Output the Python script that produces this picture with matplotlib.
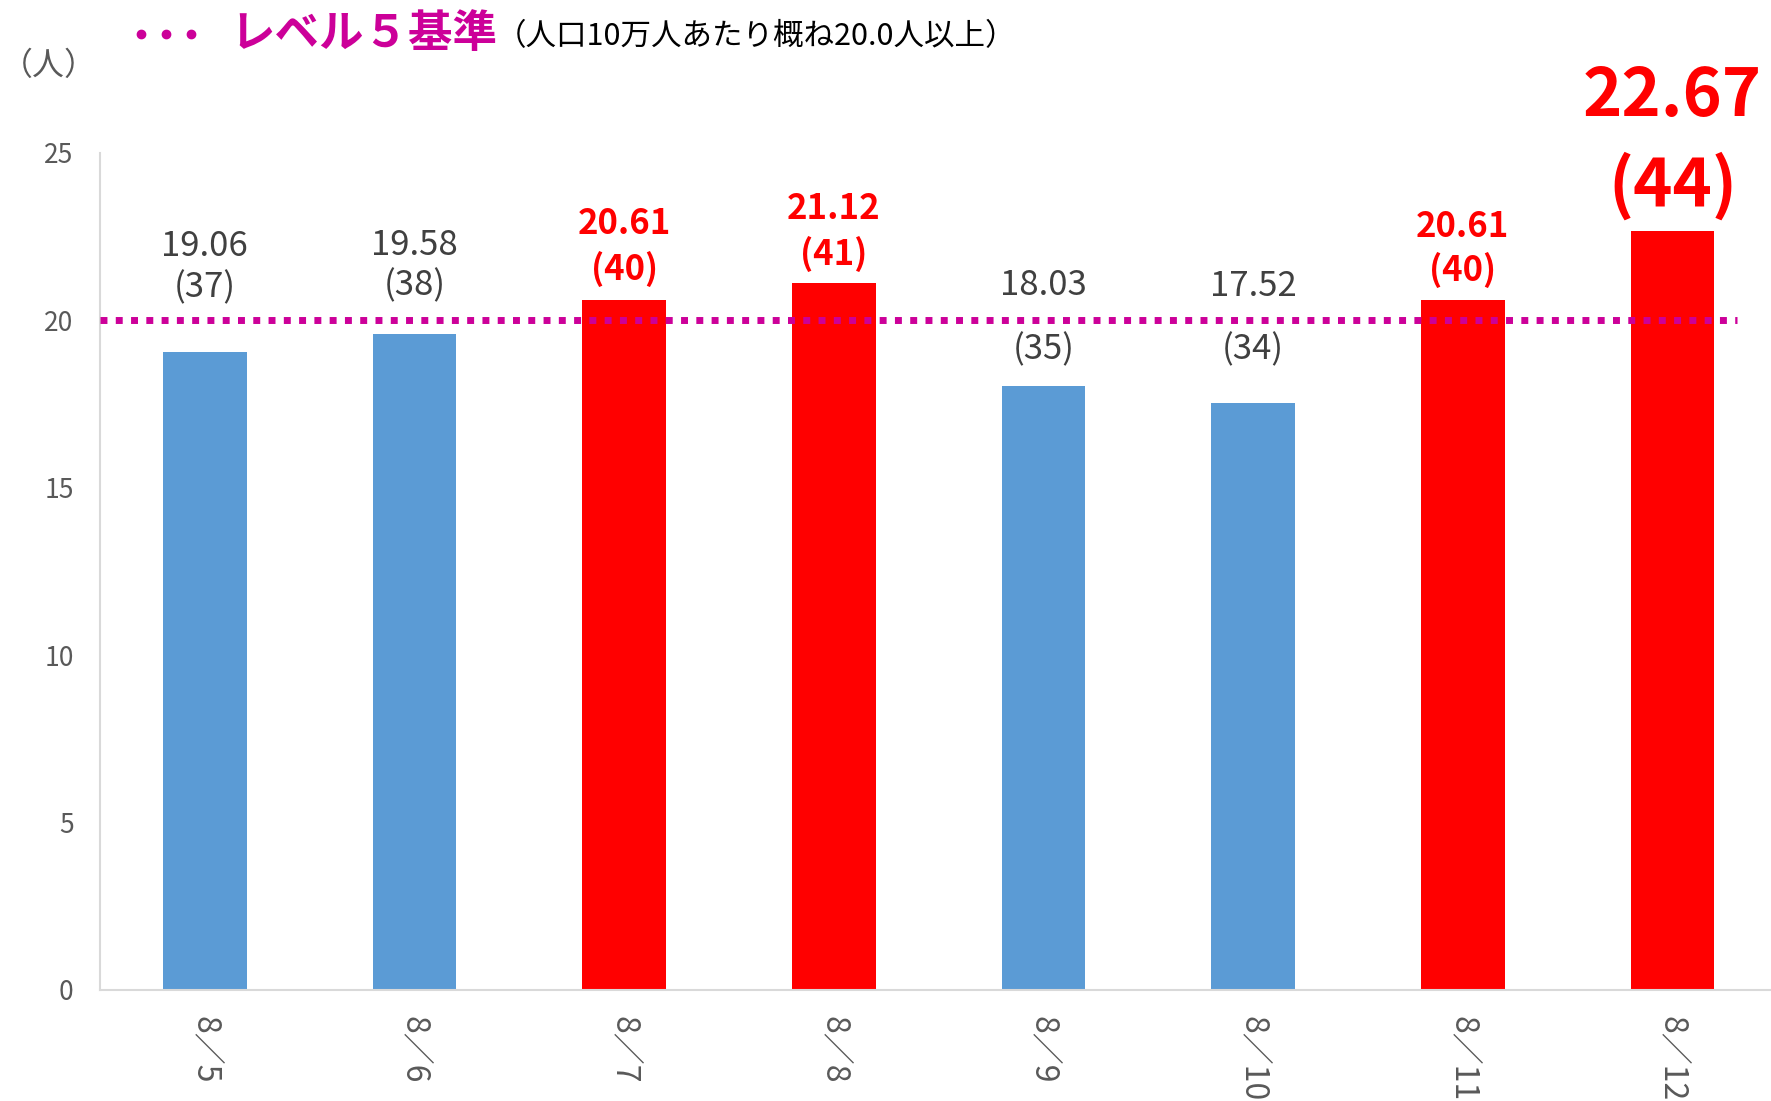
import matplotlib
matplotlib.use("Agg")
import matplotlib.pyplot as plt
from matplotlib.lines import Line2D

plt.rcParams['font.family'] = ['Noto Sans CJK JP', 'DejaVu Sans']

# data
dates = ["8/5", "8/6", "8/7", "8/8", "8/9", "8/10", "8/11", "8/12"]
values = [19.06, 19.58, 20.61, 21.12, 18.03, 17.52, 20.61, 22.67]
counts = [37, 38, 40, 41, 35, 34, 40, 44]
threshold = 20.0

# label placement (data units above the bar top) for the two label lines
gap1 = [3.16, 2.67, 2.27, 2.21, 3.00, 3.48, 2.18, 4.03]
gap2 = [1.91, 1.45, 0.93, 0.86, 1.09, 1.60, 0.90, 1.34]

BLUE = "#5B9BD5"
RED = "#FF0000"
MAGENTA = "#CC0099"
GRAY = "#595959"

W, H = 1771, 1101
fig = plt.figure(figsize=(W / 100, H / 100), dpi=100)
ax = fig.add_axes([100 / W, 111 / H, 1 - 100 / W, 837 / H])

x = list(range(len(dates)))
colors = [RED if v >= threshold else BLUE for v in values]
ax.bar(x, values, width=0.4, color=colors, zorder=2)

ax.hlines(threshold, -0.5, 7.31, colors=MAGENTA, linestyles=(0, (1, 1.2)),
          lw=5, zorder=3)

ax.set_xlim(-0.5, 7.47)
ax.set_ylim(0, 25)
ax.set_yticks([0, 5, 10, 15, 20, 25])
ax.set_xticks(x)
ax.set_xticklabels([d.replace("/", "／") for d in dates], rotation=270,
                   ha="center", va="top")
ax.tick_params(axis="y", length=0, pad=19, labelsize=19, labelcolor=GRAY)
ax.tick_params(axis="x", length=0, pad=19, labelsize=23, labelcolor=GRAY)
for s in ["top", "right"]:
    ax.spines[s].set_visible(False)
for s in ["left", "bottom"]:
    ax.spines[s].set_color("#D9D9D9")
    ax.spines[s].set_linewidth(1.5)

# value labels
for i, (v, c) in enumerate(zip(values, counts)):
    if i == len(values) - 1:
        kw = dict(color=RED, fontweight="bold", fontsize=48)
    elif v >= threshold:
        kw = dict(color=RED, fontweight="bold", fontsize=25)
    else:
        kw = dict(color="#404040", fontsize=25)
    ax.text(i, v + gap1[i], f"{v:.2f}", ha="center", va="center", **kw)
    ax.text(i, v + gap2[i], f"({c})", ha="center", va="center", **kw)

# header / legend
fig.add_artist(Line2D([141 / W, 166 / W, 191 / W], [1 - 34 / H] * 3,
                      ls="none", marker="o", ms=6, color=MAGENTA,
                      transform=fig.transFigure))
fig.text(230 / W, 1 - 34 / H, "レベル５基準", fontsize=32, fontweight="bold",
         color=MAGENTA, va="center", ha="left")
fig.text(496 / W, 1 - 37 / H, "（人口10万人あたり概ね20.0人以上）", fontsize=22,
         color="black", va="center", ha="left")
fig.text(1 / W, 1 - 66 / H, "（人）", fontsize=23, color=GRAY,
         va="center", ha="left")

fig.savefig("out.png", dpi=100)
